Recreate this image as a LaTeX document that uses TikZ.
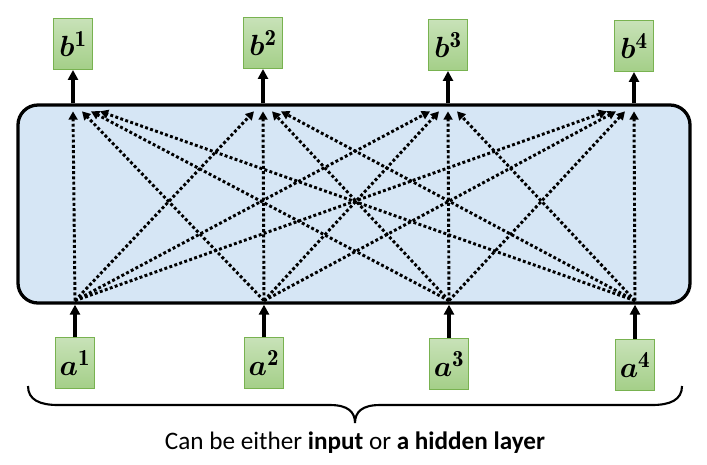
\documentclass[tikz,border=0pt]{standalone}
\usepackage{amsmath}
\usepackage{fontspec}
\newfontfamily\captionfont{Carlito}
\usetikzlibrary{arrows.meta, calc}
\definecolor{layerblue}{RGB}{214,230,245}
\definecolor{cellgreen}{RGB}{120,178,80}
\definecolor{celltop}{RGB}{200,226,184}
\definecolor{cellbottom}{RGB}{164,207,136}
\tikzset{
    cell/.style={rectangle, draw=cellgreen, line width=0.8pt, top color=celltop, bottom color=cellbottom, minimum width=1.17cm, minimum height=1.53cm, inner sep=0pt, font=\fontsize{28}{32}\selectfont},
    layer/.style={rectangle, rounded corners=0.6cm, draw=black, line width=2.8pt, fill=layerblue, minimum width=20.16cm, minimum height=5.94cm},
    arrow/.style={-{Triangle[length=8.5pt,width=8.5pt]}, line width=2.8pt},
    dotarrow/.style={-{Triangle[length=7pt,width=7.5pt]}, line width=2.5pt, dash pattern=on 2.5pt off 2pt},
    bracket/.style={line width=1.8pt},
}
\begin{document}
\begin{tikzpicture}[x=0.03cm, y=-0.03cm]
    \useasboundingbox (0,0) rectangle (707,464);
    % Nodes
    \node[layer] (layer) at (354,204) {};

    \node[cell] (b1) at (73,44) {$\boldsymbol{b}^{\mathbf{1}}$};
    \node[cell] (b2) at (263,43) {$\boldsymbol{b}^{\mathbf{2}}$};
    \node[cell] (b3) at (448,45) {$\boldsymbol{b}^{\mathbf{3}}$};
    \node[cell] (b4) at (634,46) {$\boldsymbol{b}^{\mathbf{4}}$};

    \node[cell] (a1) at (75,363) {$\boldsymbol{a}^{\mathbf{1}}$};
    \node[cell] (a2) at (264,363) {$\boldsymbol{a}^{\mathbf{2}}$};
    \node[cell] (a3) at (449,364) {$\boldsymbol{a}^{\mathbf{3}}$};
    \node[cell] (a4) at (635,365) {$\boldsymbol{a}^{\mathbf{4}}$};

    \node[font=\captionfont\fontsize{21.5}{26}\selectfont] (caption) at (355,443) {Can be either \textbf{input} or \textbf{a hidden layer}};

    % Connections
    \foreach \n in {1,...,4} {
        \draw[arrow] (layer.north -| b\n) -- (b\n);
        \draw[arrow] (a\n) -- (layer.south -| a\n);
        \coordinate (src\n) at ($(layer.south -| a\n)+(0,-4)$);
        \coordinate (dst\n) at ($(layer.north -| b\n)+(0,8)$);
    }

    \foreach \i in {1,...,4}
        \foreach \j in {1,...,4}
            \draw[dotarrow] (src\i) -- ($(dst\j)+({9*(\i-\j)},0)$);

    % Brace
    \draw[bracket] (28,386) .. controls (28,400) and (40,405) .. (58,405) -- (330,405)
        .. controls (348,405) and (355,412) .. (355,423)
        .. controls (355,412) and (362,405) .. (380,405) -- (652,405)
        .. controls (670,405) and (682,400) .. (682,386);
\end{tikzpicture}
\end{document}
